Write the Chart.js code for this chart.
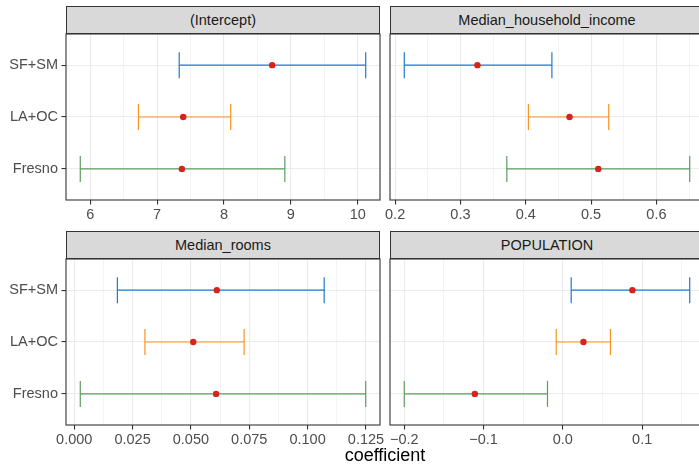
<!DOCTYPE html>
<html><head><meta charset="utf-8">
<script src="https://cdn.jsdelivr.net/npm/chart.js@4.4.1/dist/chart.umd.min.js"></script>
<style>
html,body{margin:0;padding:0;background:#fff;}
#wrap{position:relative;width:699px;height:464px;overflow:hidden;background:#fff;font-family:'Liberation Sans',Arial,sans-serif;}
.strip{position:absolute;box-sizing:border-box;width:314px;height:28px;background:#D9D9D9;border:1.1px solid #333333;color:#1A1A1A;font-size:14.5px;text-align:center;line-height:26px;white-space:nowrap;}
canvas{position:absolute;}
#xtitle{position:absolute;left:0;width:770px;top:444px;text-align:center;font-size:18px;line-height:22px;color:#000;}
</style></head><body>
<div id="wrap">
  <div class="strip" style="left:66px;top:6px;">(Intercept)</div>
  <div class="strip" style="left:390px;top:6px;">Median_household_income</div>
  <div class="strip" style="left:66px;top:231px;">Median_rooms</div>
  <div class="strip" style="left:390px;top:231px;">POPULATION</div>
  <canvas id="c1" width="385" height="195" style="left:0px;top:30px;"></canvas>
  <canvas id="c2" width="330" height="195" style="left:380px;top:30px;"></canvas>
  <canvas id="c3" width="385" height="195" style="left:0px;top:254.5px;"></canvas>
  <canvas id="c4" width="330" height="195" style="left:380px;top:254.5px;"></canvas>
  <div id="xtitle">coefficient</div>
</div>
<script>
// ---- data ----
const regions = ['SF+SM', 'LA+OC', 'Fresno'];

const interceptEst = [8.72, 7.39, 7.37];
const interceptLo  = [7.33, 6.72, 5.85];
const interceptHi  = [10.12, 8.10, 8.91];

const incomeEst = [0.326, 0.467, 0.511];
const incomeLo  = [0.214, 0.404, 0.371];
const incomeHi  = [0.440, 0.527, 0.651];

const roomsEst = [0.0611, 0.0510, 0.0608];
const roomsLo  = [0.0185, 0.0303, 0.0026];
const roomsHi  = [0.1071, 0.0728, 0.1249];

const popEst = [0.0877, 0.026, -0.111];
const popLo  = [0.0105, -0.0084, -0.200];
const popHi  = [0.160, 0.060, -0.0194];

const interceptTicks = [6, 7, 8, 9, 10];
const interceptTickLabels = ['6', '7', '8', '9', '10'];
const incomeTicks = [0.2, 0.3, 0.4, 0.5, 0.6];
const incomeTickLabels = ['0.2', '0.3', '0.4', '0.5', '0.6'];
const roomsTicks = [0, 0.025, 0.05, 0.075, 0.1, 0.125];
const roomsTickLabels = ['0.000', '0.025', '0.050', '0.075', '0.100', '0.125'];
const popTicks = [-0.2, -0.1, 0, 0.1];
const popTickLabels = ['\u22120.2', '\u22120.1', '0.0', '0.1'];

// ---- styles ----
const groupColors = ['#1F78D0', '#FA9420', '#5E9B5E'];
const pointColor = '#D7231F';
const FONT = "'Liberation Sans', Arial, sans-serif";

const borderPlugin = {
  id: 'panelBorder',
  afterDatasetsDraw(chart) {
    const a = chart.chartArea, ctx = chart.ctx;
    ctx.save();
    ctx.strokeStyle = '#333333';
    ctx.lineWidth = 1.1;
    ctx.strokeRect(a.left, a.top, a.right - a.left, a.bottom - a.top);
    ctx.restore();
  }
};

function makePanel(id, est, lo, hi, majors, labels, showY) {
  const n = regions.length;
  const ypos = i => n - i;
  const allVals = lo.concat(hi, est);
  const dmin = Math.min(...allVals), dmax = Math.max(...allVals);
  const pad = (dmax - dmin) * 0.05;
  const step = majors[1] - majors[0];

  const datasets = [{
    type: 'scatter', order: 0,
    data: regions.map((r, i) => ({ x: est[i], y: ypos(i) })),
    pointRadius: 3.2, pointHoverRadius: 3.2,
    pointBackgroundColor: pointColor, pointBorderWidth: 0, showLine: false, clip: false
  }];
  regions.forEach((r, i) => datasets.push({
    type: 'line', order: 1,
    data: [{ x: lo[i], y: ypos(i) }, { x: hi[i], y: ypos(i) }],
    borderColor: groupColors[i], borderWidth: 1.2,
    pointStyle: 'line', pointRotation: 90, pointRadius: 13, pointHoverRadius: 13,
    pointBorderColor: groupColors[i], pointBorderWidth: 1.2,
    tension: 0, clip: false, fill: false
  }));

  new Chart(document.getElementById(id), {
    type: 'scatter',
    data: { datasets },
    options: {
      responsive: false, animation: false, events: [],
      layout: { autoPadding: false, padding: { top: 4, bottom: 0, left: showY ? 0 : 10, right: showY ? 5 : 6 } },
      plugins: { legend: { display: false }, tooltip: { enabled: false } },
      scales: {
        x: {
          type: 'linear', min: dmin - pad, max: dmax + pad,
          border: { display: false },
          afterBuildTicks: s => {
            const t = majors.map(v => ({ value: v }));
            for (let i = 0; i <= majors.length; i++) {
              const v = (i < majors.length ? majors[i] : majors[majors.length - 1] + step) - step / 2;
              if (v >= s.min && v <= s.max) t.push({ value: v, minor: true });
            }
            t.sort((a, b) => a.value - b.value);
            s.ticks = t;
          },
          afterFit: s => { s.height = 25; s.paddingLeft = 0; s.paddingRight = 0; },
          grid: {
            color: '#EBEBEB',
            lineWidth: c => (c.tick && c.tick.minor) ? 0.55 : 1.1,
            drawTicks: true, tickLength: 4.5,
            tickColor: c => (c.tick && c.tick.minor) ? 'rgba(0,0,0,0)' : '#333333',
            tickWidth: 1.1
          },
          ticks: {
            autoSkip: false, maxRotation: 0, minRotation: 0, padding: 2,
            color: '#4D4D4D', font: { family: FONT, size: 14.5 },
            callback: function (value, index, ticks) {
              const tk = ticks[index];
              if (tk && tk.minor) return '';
              const j = majors.findIndex(m => Math.abs(m - value) < 1e-9);
              return j >= 0 ? labels[j] : '';
            }
          }
        },
        y: {
          type: 'linear', min: 0.4, max: n + 0.6,
          border: { display: false },
          afterBuildTicks: s => { s.ticks = regions.map((r, i) => ({ value: ypos(i) })).sort((a, b) => a.value - b.value); },
          afterFit: s => { s.width = showY ? 66 : 0; s.paddingTop = 0; s.paddingBottom = 0; },
          grid: {
            color: '#EBEBEB', lineWidth: 1.1,
            drawTicks: showY, tickLength: 4.5, tickColor: '#333333', tickWidth: 1.1
          },
          ticks: {
            display: showY, autoSkip: false, padding: 3.5,
            color: '#4D4D4D', font: { family: FONT, size: 14.5 },
            callback: v => { const i = n - v; return regions[i] !== undefined ? regions[i] : ''; }
          }
        }
      }
    },
    plugins: [borderPlugin]
  });
}

makePanel('c1', interceptEst, interceptLo, interceptHi, interceptTicks, interceptTickLabels, true);
makePanel('c2', incomeEst, incomeLo, incomeHi, incomeTicks, incomeTickLabels, false);
makePanel('c3', roomsEst, roomsLo, roomsHi, roomsTicks, roomsTickLabels, true);
makePanel('c4', popEst, popLo, popHi, popTicks, popTickLabels, false);
</script>
</body></html>
